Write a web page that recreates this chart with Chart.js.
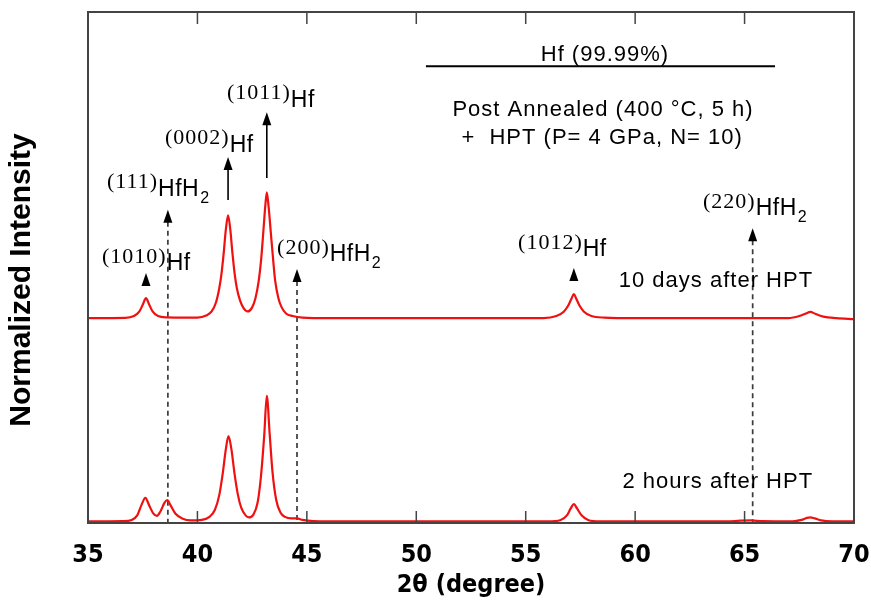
<!DOCTYPE html>
<html><head><meta charset="utf-8">
<script src="https://cdn.jsdelivr.net/npm/chart.js@4/dist/chart.umd.min.js"></script>
<style>html,body{margin:0;padding:0;background:#fff;} #wrap{width:871px;height:603px;position:relative;}</style>
</head><body><div id="wrap"><canvas id="c" width="871" height="603" style="width:871px;height:603px"></canvas></div>
<script>
// 2 hours after HPT (lower trace)
const xHours = [35.0,36.6,37.0,37.25,37.45,37.62,37.8,37.98,38.15,38.3,38.5,38.62,38.78,39.0,39.3,39.7,40.2,40.55,40.8,41.0,41.15,41.3,41.42,41.55,41.7,41.85,42.0,42.2,42.35,42.55,42.75,42.9,43.05,43.17,43.3,43.43,43.6,43.8,44.0,44.3,44.55,44.8,45.3,46.0,56.0,56.6,56.9,57.05,57.2,57.35,57.55,57.85,58.4,64.2,64.8,65.3,65.8,67.2,67.6,67.85,68.0,68.2,68.5,69.0,70.0];
const yHours = [0.3,0.35,0.6,1.5,3.6,4.9,3.4,1.9,1.4,2.2,4.0,4.5,3.4,1.8,0.9,0.5,0.6,1.2,2.6,5.5,9.5,14.5,17.0,14.5,9.5,5.5,3.0,1.5,1.1,1.6,4.0,9.0,17.0,24.9,17.5,10.0,4.5,2.0,1.2,0.9,0.9,0.6,0.35,0.3,0.3,0.6,1.6,2.8,3.7,2.8,1.5,0.6,0.3,0.3,0.45,0.5,0.35,0.3,0.6,1.0,1.1,0.9,0.5,0.3,0.3];
// 10 days after HPT (upper trace, offset)
const xDays = [35.0,36.7,37.1,37.35,37.5,37.65,37.8,37.95,38.2,38.6,39.5,40.0,40.4,40.65,40.85,41.0,41.1,41.2,41.3,41.4,41.5,41.6,41.7,41.8,41.95,42.1,42.3,42.5,42.65,42.8,42.92,43.02,43.1,43.17,43.25,43.35,43.45,43.55,43.7,43.85,44.05,44.35,44.8,46.0,55.8,56.4,56.75,56.95,57.1,57.2,57.3,57.45,57.65,58.0,58.6,60.0,67.0,67.5,67.8,68.0,68.25,68.6,69.2,70.0];
const yDays = [40.1,40.15,40.5,41.4,42.7,44.0,42.7,41.4,40.5,40.25,40.2,40.2,40.6,41.4,43.2,46.0,48.8,52.8,57.5,60.2,57.5,52.8,48.8,46.0,43.5,42.1,41.4,42.2,44.0,47.4,52.0,57.5,62.0,64.7,62.0,57.0,52.0,47.5,44.0,42.2,41.0,40.5,40.2,40.1,40.1,40.5,41.4,42.6,44.0,44.8,44.0,42.6,41.4,40.5,40.2,40.1,40.1,40.5,41.0,41.3,40.9,40.4,40.1,39.9];
const xTicks = [35,40,45,50,55,60,65,70];

// peak markers
const peakIndex = ['(1010)','(111)','(0002)','(1011)','(200)','(1012)','(220)'];
const peakPhase = ['Hf','HfH','Hf','Hf','HfH','Hf','HfH'];
const peakSub   = ['','2','','','2','','2'];
const peakAt    = [37.65,38.65,41.4,43.17,44.55,57.2,65.37];
const arrowTip  = [48.9,61.3,71.6,80.4,49.7,49.9,57.7];
const arrowEnd  = [46.4,0,63.2,67.5,0,47.4,0];
const arrowDashed = [false,true,false,false,true,false,true];
const labelX = [35.64,35.87,38.52,41.35,43.64,54.65,63.10];
const labelY = [52.05,66.7,75.3,84.1,53.8,54.8,62.8];

// text notes
const noteText = ['Hf (99.99%)','Post Annealed (400 °C, 5 h)','+  HPT (P= 4 GPa, N= 10)','10 days after HPT','2 hours after HPT'];
const noteX = [58.62,58.53,58.49,68.13,68.13];
const noteY = [91.6,80.8,75.3,47.4,8.0];
const noteAlign = ['center','center','center','right','right'];
const ruleX = [50.44,66.39];
const ruleY = 89.4;

const SANS = '"Liberation Sans", Arial, sans-serif';
const SERIF = '"Liberation Serif", "Times New Roman", serif';
const NARROW = '"Liberation Sans Narrow", "DejaVu Sans Condensed", "Liberation Sans", sans-serif';

const decor = {
  id: 'decor',
  beforeDatasetsDraw(chart) {
    const {ctx, scales: {x, y}} = chart;
    ctx.save();
    ctx.strokeStyle = '#3a3a3a';
    ctx.lineWidth = 1.7;
    ctx.setLineDash([5, 4]);
    for (let i = 0; i < peakAt.length; i++) {
      if (!arrowDashed[i]) continue;
      const px = x.getPixelForValue(peakAt[i]);
      ctx.beginPath();
      ctx.moveTo(px, y.getPixelForValue(arrowTip[i]) + 12);
      ctx.lineTo(px, y.getPixelForValue(arrowEnd[i]));
      ctx.stroke();
    }
    ctx.restore();
  },
  afterDatasetsDraw(chart) {
    const {ctx, chartArea: a, scales: {x, y}} = chart;
    ctx.save();
    ctx.strokeStyle = '#444';
    ctx.lineWidth = 2;
    ctx.setLineDash([]);
    ctx.strokeRect(a.left, a.top, a.right - a.left, a.bottom - a.top);
    ctx.lineWidth = 1.5;
    xTicks.forEach(v => {
      if (v <= x.min || v >= x.max) return;
      const px = x.getPixelForValue(v);
      ctx.beginPath();
      ctx.moveTo(px, a.bottom); ctx.lineTo(px, a.bottom - 12);
      ctx.moveTo(px, a.top); ctx.lineTo(px, a.top + 12);
      ctx.stroke();
    });
    ctx.fillStyle = '#000';
    ctx.strokeStyle = '#000';
    for (let i = 0; i < peakAt.length; i++) {
      const px = x.getPixelForValue(peakAt[i]);
      const ty = y.getPixelForValue(arrowTip[i]);
      ctx.beginPath();
      ctx.moveTo(px, ty);
      ctx.lineTo(px - 4.5, ty + 13);
      ctx.lineTo(px + 4.5, ty + 13);
      ctx.closePath();
      ctx.fill();
      if (!arrowDashed[i]) {
        const ey = y.getPixelForValue(arrowEnd[i]);
        if (ey > ty + 13) {
          ctx.lineWidth = 1.6;
          ctx.beginPath();
          ctx.moveTo(px, ty + 10);
          ctx.lineTo(px, ey);
          ctx.stroke();
        }
      }
    }
    ctx.textBaseline = 'middle';
    ctx.textAlign = 'left';
    for (let i = 0; i < peakIndex.length; i++) {
      let lx = x.getPixelForValue(labelX[i]);
      const ly = y.getPixelForValue(labelY[i]);
      ctx.font = '22px ' + SERIF;
      ctx.letterSpacing = '1px';
      ctx.fillText(peakIndex[i], lx, ly);
      lx += ctx.measureText(peakIndex[i]).width;
      ctx.font = '23px ' + SANS;
      ctx.letterSpacing = '0.5px';
      ctx.fillText(peakPhase[i], lx, ly + 7);
      lx += ctx.measureText(peakPhase[i]).width + 1;
      if (peakSub[i]) {
        ctx.font = '16px ' + SANS;
        ctx.fillText(peakSub[i], lx, ly + 16);
      }
    }
    ctx.font = '22px ' + SANS;
    ctx.letterSpacing = '1px';
    for (let i = 0; i < noteText.length; i++) {
      ctx.textAlign = noteAlign[i];
      ctx.fillText(noteText[i], x.getPixelForValue(noteX[i]), y.getPixelForValue(noteY[i]));
    }
    ctx.letterSpacing = '0px';
    ctx.lineWidth = 2;
    ctx.beginPath();
    ctx.moveTo(x.getPixelForValue(ruleX[0]), y.getPixelForValue(ruleY));
    ctx.lineTo(x.getPixelForValue(ruleX[1]), y.getPixelForValue(ruleY));
    ctx.stroke();
    ctx.restore();
  }
};

new Chart(document.getElementById('c'), {
  type: 'line',
  data: {
    datasets: [
      { label: '10 days after HPT', data: xDays.map((v, i) => ({x: v, y: yDays[i]})),
        borderColor: '#f01010', borderWidth: 2.2, pointRadius: 0, fill: false, cubicInterpolationMode: 'monotone' },
      { label: '2 hours after HPT', data: xHours.map((v, i) => ({x: v, y: yHours[i]})),
        borderColor: '#f01010', borderWidth: 2.2, pointRadius: 0, fill: false, cubicInterpolationMode: 'monotone' }
    ]
  },
  options: {
    responsive: false,
    animation: false,
    devicePixelRatio: 1,
    layout: { padding: { left: 0, right: 17, top: 12, bottom: 0 } },
    plugins: { legend: { display: false }, tooltip: { enabled: false } },
    scales: {
      x: {
        type: 'linear', min: 35, max: 70,
        afterBuildTicks: s => { s.ticks = xTicks.map(v => ({value: v})); },
        afterFit: s => { s.height = 80; s.paddingLeft = 0; s.paddingRight = 0; },
        grid: { display: false }, border: { display: false },
        ticks: { color: '#000', padding: 9, autoSkip: false, maxRotation: 0, font: { family: NARROW, size: 25, weight: 'bold' } },
        title: { display: true, text: '2θ (degree)', color: '#000', padding: { top: 0, bottom: 3 },
                 font: { family: NARROW, size: 25, weight: 'bold' } }
      },
      y: {
        min: 0, max: 100,
        afterFit: s => { s.width = 88; },
        grid: { display: false }, border: { display: false },
        ticks: { display: false },
        title: { display: true, text: 'Normalized Intensity   ', color: '#000', padding: { top: 4, bottom: 0 },
                 font: { family: SANS, size: 30, weight: 'bold' } }
      }
    }
  },
  plugins: [decor]
});
</script>
</body></html>
